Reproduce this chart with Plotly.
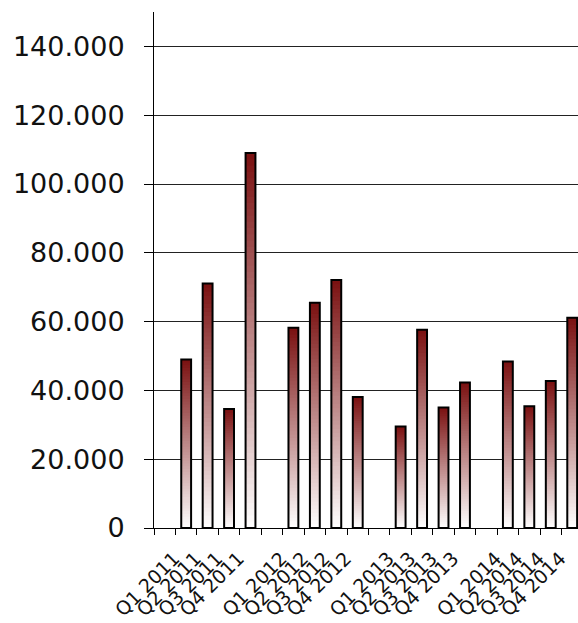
import plotly.graph_objects as go

# Quarterly values, 2011-2014
quarters = [
    "Q1 2011", "Q2 2011", "Q3 2011", "Q4 2011",
    "Q1 2012", "Q2 2012", "Q3 2012", "Q4 2012",
    "Q1 2013", "Q2 2013", "Q3 2013", "Q4 2013",
    "Q1 2014", "Q2 2014", "Q3 2014", "Q4 2014",
]
values = [
    49000, 71100, 34600, 109000,
    58200, 65500, 72100, 38100,
    29500, 57600, 35000, 42300,
    48400, 35400, 42700, 61100,
]
y_ticks = [0, 20000, 40000, 60000, 80000, 100000, 120000, 140000]

# Category order: an empty slot in front of every year
categories = []
for k, q in enumerate(quarters):
    if k % 4 == 0:
        categories.append(" " * (k // 4 + 1))
    categories.append(q)

TOP = (122, 16, 16)      # dark red at the top of a bar
BOTTOM = (255, 255, 255)  # white at the base
N_STEPS = 60
OVERLAP = 1.8             # slices overlap so no seams show between them
BAR_W = 0.46


def blend(t):
    r = [round(b + (a - b) * t) for a, b in zip(TOP, BOTTOM)]
    return f"rgb({r[0]},{r[1]},{r[2]})"


fig = go.Figure()

# Vertical gradient: each bar is filled with stacked slices of its own height
for i in range(N_STEPS):
    bases = [v * i / N_STEPS for v in values]
    heights = [min(v * OVERLAP / N_STEPS, v - b) for v, b in zip(values, bases)]
    fig.add_trace(go.Bar(
        x=quarters,
        y=heights,
        base=bases,
        width=BAR_W,
        marker=dict(color=blend((i + 0.5) / N_STEPS), line=dict(width=0)),
        hoverinfo="skip",
        showlegend=False,
    ))

# Black outline over the full bar
fig.add_trace(go.Bar(
    x=quarters,
    y=values,
    width=BAR_W,
    marker=dict(color="rgba(0,0,0,0)", line=dict(color="black", width=2)),
    showlegend=False,
    hovertemplate="%{x}: %{y:,}<extra></extra>",
))

fig.update_layout(
    width=578,
    height=623,
    margin=dict(l=154, r=0, t=12, b=95, autoexpand=False),
    paper_bgcolor="white",
    plot_bgcolor="white",
    barmode="overlay",
    separators=",.",
    font=dict(family="DejaVu Sans", color="#111111"),
)

fig.update_xaxes(
    type="category",
    categoryorder="array",
    categoryarray=categories,
    range=[-0.5, 19.27],
    tickmode="linear",
    tick0=0,
    dtick=1,
    tickson="boundaries",
    ticks="outside",
    ticklen=6,
    tickcolor="black",
    tickangle=-45,
    ticklabelstandoff=11,
    ticklabelshift=-12,
    tickfont=dict(size=19, family="DejaVu Sans", color="#111111"),
    automargin=False,
    showline=True,
    linecolor="black",
    linewidth=1,
    showgrid=False,
    zeroline=False,
)

fig.update_yaxes(
    range=[0, 150000],
    tickvals=y_ticks,
    tickformat=",d",
    ticks="outside",
    ticklen=9,
    tickcolor="black",
    ticklabelstandoff=14,
    tickfont=dict(size=27, family="DejaVu Sans", color="#111111"),
    automargin=False,
    showline=True,
    linecolor="black",
    linewidth=1,
    showgrid=True,
    gridcolor="#222222",
    gridwidth=1,
    zeroline=False,
)

fig.write_html("out.html")
